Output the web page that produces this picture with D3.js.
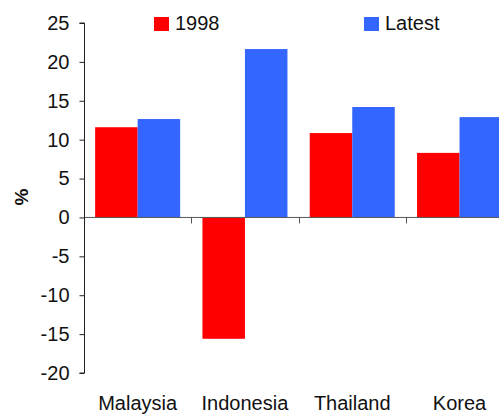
<!DOCTYPE html>
<html>
<head>
<meta charset="utf-8">
<script src="https://cdn.jsdelivr.net/npm/d3@7"></script>
<style>
  html, body { margin: 0; padding: 0; background: #fff; }
  svg { display: block; font-family: "Liberation Sans", Arial, sans-serif; }
</style>
</head>
<body>
<svg id="chart" width="499" height="414"></svg>
<script>
// Countries and the two series plotted per country (%)
const categories = ["Malaysia", "Indonesia", "Thailand", "Korea"];
const seriesNames = ["1998", "Latest"];
const values1998 = [11.6, -15.6, 10.85, 8.3];
const valuesLatest = [12.65, 21.65, 14.2, 12.9];
const yTicks = [-20, -15, -10, -5, 0, 5, 10, 15, 20, 25];
const colors = ["#ff0000", "#3366ff"];

const svg = d3.select("#chart");
const W = 499, H = 414;

const axisX = 84;
const y = d3.scaleLinear().domain([-20, 25]).range([373, 23]);
const x0 = d3.scaleBand().domain(categories).range([axisX, axisX + 4 * 107.3]).padding(0);
const x1 = d3.scaleBand().domain(seriesNames).range([0, x0.bandwidth()])
  .paddingInner(0).paddingOuter(0.262);

const rows = categories.map((c, i) => ({ cat: c, vals: [values1998[i], valuesLatest[i]] }));

// Bars
const groups = svg.append("g").selectAll("g").data(rows).join("g")
  .attr("transform", d => `translate(${x0(d.cat)},0)`);
groups.selectAll("rect").data(d => d.vals.map((v, j) => ({ v, s: seriesNames[j], j })))
  .join("rect")
  .attr("x", d => x1(d.s))
  .attr("width", x1.bandwidth())
  .attr("y", d => y(Math.max(0, d.v)))
  .attr("height", d => Math.abs(y(d.v) - y(0)))
  .attr("fill", d => colors[d.j]);

// Zero line with category separator ticks below it
svg.append("line")
  .attr("x1", axisX).attr("x2", W)
  .attr("y1", y(0)).attr("y2", y(0))
  .attr("stroke", "#555").attr("stroke-width", 1);
categories.slice(1).forEach(c => {
  const xx = Math.round(x0(c)) + 0.5;
  svg.append("line")
    .attr("x1", xx).attr("x2", xx)
    .attr("y1", y(0)).attr("y2", y(0) + 6)
    .attr("stroke", "#555").attr("stroke-width", 1);
});

// Y axis (plain hyphen for negative numbers)
const yAxis = d3.axisLeft(y).tickValues(yTicks).tickSize(5).tickPadding(10).tickFormat(d => String(d));
const gy = svg.append("g").attr("transform", `translate(${axisX + 0.5},0)`).call(yAxis);
gy.select(".domain").attr("stroke", "#222").attr("d", `M-5,${y(25)}H0V${y(-20)}H-5`);
gy.selectAll(".tick line").attr("stroke", "#222");
gy.selectAll(".tick text").attr("font-size", 20).attr("fill", "#111")
  .attr("font-family", "'Liberation Sans', Arial, sans-serif");

// Y axis title
svg.append("text")
  .attr("transform", `translate(28,197) rotate(-90)`)
  .attr("text-anchor", "middle")
  .attr("font-size", 19).attr("font-weight", "bold").attr("fill", "#111")
  .text("%");

// Category labels
svg.append("g").selectAll("text").data(categories).join("text")
  .attr("x", d => x0(d) + x0.bandwidth() / 2)
  .attr("y", 410)
  .attr("text-anchor", "middle")
  .attr("font-size", 20).attr("fill", "#111")
  .text(d => d);

// Legend
const legendPos = [{ x: 154 }, { x: 364 }];
seriesNames.forEach((s, i) => {
  svg.append("rect")
    .attr("x", legendPos[i].x).attr("y", 17)
    .attr("width", 15).attr("height", 14)
    .attr("fill", colors[i]);
  svg.append("text")
    .attr("x", legendPos[i].x + 21).attr("y", 30)
    .attr("font-size", 20).attr("fill", "#111")
    .text(s);
});
</script>
</body>
</html>
